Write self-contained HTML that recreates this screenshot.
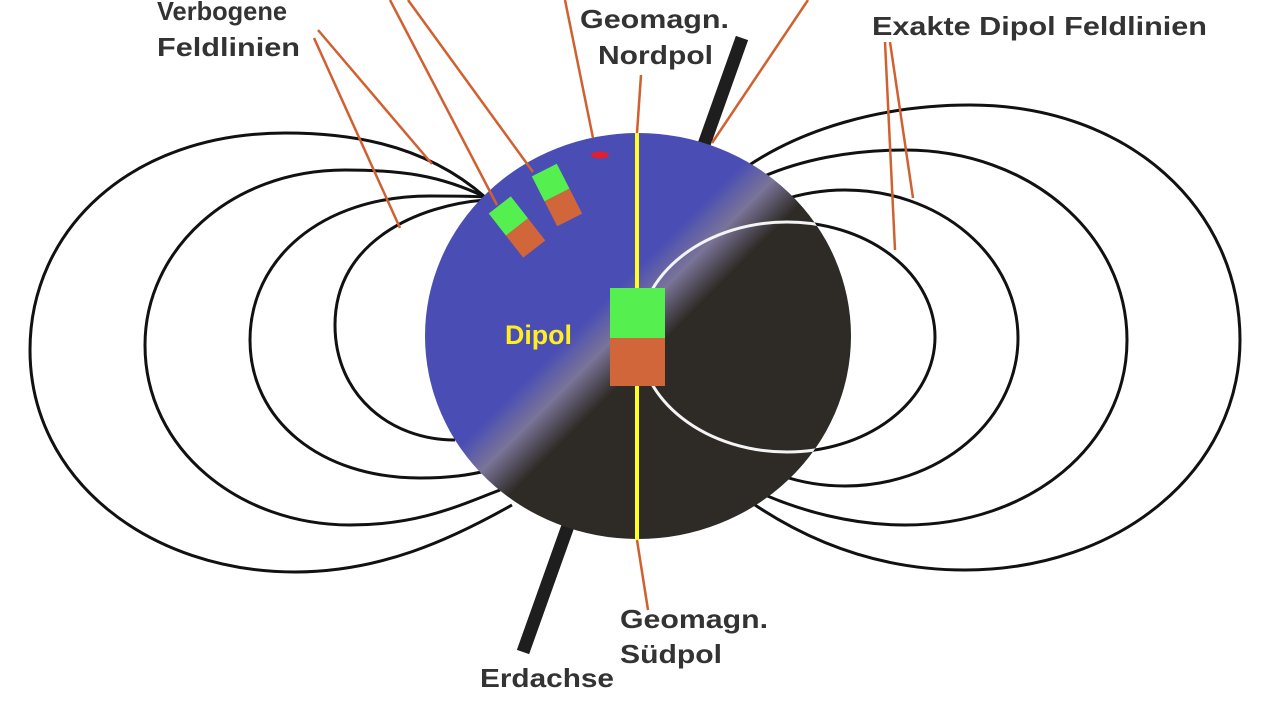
<!DOCTYPE html>
<html><head><meta charset="utf-8"><style>
html,body{margin:0;padding:0;background:#fff;}
svg{display:block;}
text{font-family:"Liberation Sans",sans-serif;font-weight:bold;}
</style></head><body>
<svg width="1280" height="720" viewBox="0 0 1280 720" xmlns="http://www.w3.org/2000/svg">
<defs>
<linearGradient id="g" x1="490" y1="190" x2="780" y2="480" gradientUnits="userSpaceOnUse">
<stop offset="0.39" stop-color="#4a4eb4"/>
<stop offset="0.47" stop-color="#7a7498"/>
<stop offset="0.56" stop-color="#2e2a26"/>
</linearGradient>
<clipPath id="cg"><ellipse cx="638" cy="336" rx="213" ry="203"/></clipPath>
</defs>
<rect width="1280" height="720" fill="#fff"/>
<g fill="none" stroke="#111" stroke-width="3">
<path d="M485,197 C420,140 340,133 285,133 C130,133 30,230 30,350 C30,480 150,572 295,572 C380,572 450,540 512,505"/>
<path d="M485,197 C440,175 400,170 345,170 C230,170 145,250 145,345 C145,450 240,525 350,525 C420,525 460,505 500,490"/>
<path d="M485,197 C470,196 450,196 430,196 C320,196 250,260 250,340 C250,420 320,478 420,478 C450,478 470,475 490,470"/>
<path d="M485,200 C420,205 335,240 335,325 C335,395 390,440 455,440"/>
<path d="M745,168 C800,130 880,105 970,105 C1130,105 1240,210 1240,340 C1240,470 1120,570 965,570 C870,570 800,535 755,505"/>
<path d="M760,178 C800,160 850,150 905,150 C1030,150 1127,235 1127,340 C1127,445 1030,525 905,525 C850,525 800,510 765,495"/>
<ellipse cx="845" cy="338" rx="173" ry="148"/>
<ellipse cx="787" cy="337" rx="148" ry="115"/>
</g>
<line x1="742" y1="38" x2="523" y2="652" stroke="#1e1e1e" stroke-width="13"/>
<ellipse cx="638" cy="336" rx="213" ry="203" fill="url(#g)"/>
<ellipse cx="787" cy="337" rx="148" ry="115" fill="none" stroke="#f4f4f4" stroke-width="3" clip-path="url(#cg)"/>
<line x1="637" y1="133" x2="637" y2="540" stroke="#ffff20" stroke-width="4"/>
<rect x="610" y="288" width="55" height="50" fill="#55f050"/>
<rect x="610" y="338" width="55" height="48" fill="#d0663a"/>
<text x="505" y="344" font-size="27" fill="#ffee22" textLength="67" lengthAdjust="spacingAndGlyphs">Dipol</text>
<ellipse cx="600" cy="155" rx="9" ry="3.5" fill="#e02030"/>
<g transform="translate(517,227) rotate(-38)">
<rect x="-14" y="-28" width="28" height="28" fill="#55f050"/>
<rect x="-14" y="0" width="28" height="28" fill="#d0663a"/>
</g>
<g transform="translate(557,195) rotate(-27)">
<rect x="-14" y="-28" width="28" height="28" fill="#55f050"/>
<rect x="-14" y="0" width="28" height="28" fill="#d0663a"/>
</g>
<g stroke="#d06030" stroke-width="2.5" fill="none">
<line x1="318" y1="30" x2="432" y2="164"/>
<line x1="314" y1="38" x2="400" y2="228"/>
<line x1="390" y1="0" x2="497" y2="205"/>
<line x1="408" y1="0" x2="533" y2="172"/>
<line x1="565" y1="0" x2="593" y2="138"/>
<line x1="808" y1="0" x2="712" y2="143"/>
<line x1="885" y1="42" x2="895" y2="250"/>
<line x1="890" y1="42" x2="913" y2="198"/>
<line x1="641" y1="75" x2="637" y2="133"/>
<line x1="637" y1="540" x2="648" y2="610"/>
</g>
<g fill="#333" font-size="26">
<text x="157" y="20" textLength="130" lengthAdjust="spacingAndGlyphs">Verbogene</text>
<text x="157" y="56" textLength="143" lengthAdjust="spacingAndGlyphs">Feldlinien</text>
<text x="580" y="28" textLength="149" lengthAdjust="spacingAndGlyphs">Geomagn.</text>
<text x="598" y="64" textLength="115" lengthAdjust="spacingAndGlyphs">Nordpol</text>
<text x="872" y="35" textLength="335" lengthAdjust="spacingAndGlyphs">Exakte Dipol Feldlinien</text>
<text x="620" y="628" textLength="148" lengthAdjust="spacingAndGlyphs">Geomagn.</text>
<text x="620" y="663" textLength="102" lengthAdjust="spacingAndGlyphs">Südpol</text>
<text x="480" y="687" textLength="134" lengthAdjust="spacingAndGlyphs">Erdachse</text>
</g>
</svg>
</body></html>
